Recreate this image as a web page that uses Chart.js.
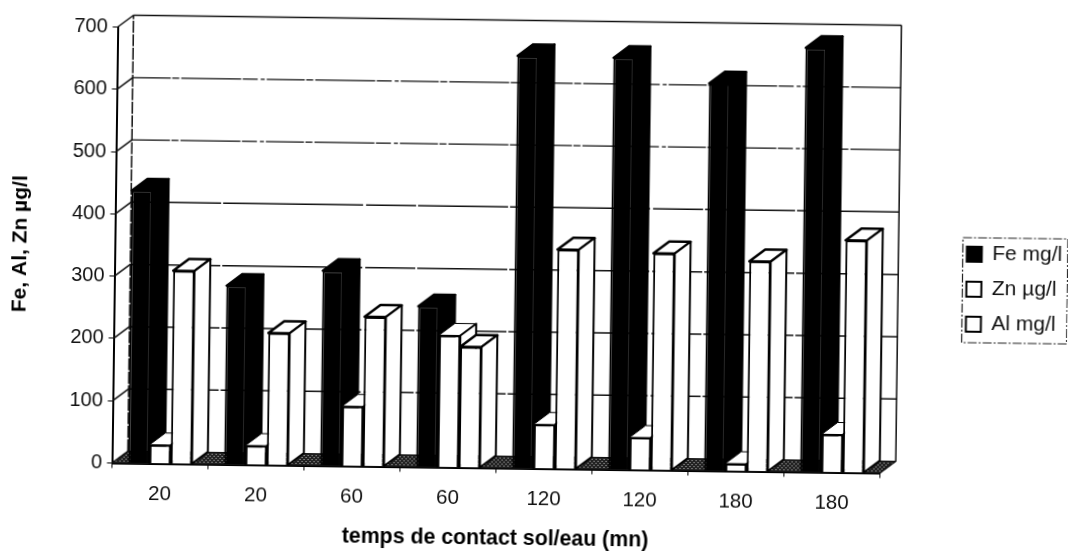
<!DOCTYPE html>
<html>
<head>
<meta charset="utf-8">
<style>
    html, body { margin: 0; padding: 0; background: #fff; overflow: hidden; }
    /* the scan sits slightly crooked */
    #chart { display: block; transform: rotate(0.75deg); transform-origin: 534px 275px; }
</style>
<script src="https://cdn.jsdelivr.net/npm/chart.js@4"></script>
</head>
<body>
<canvas id="chart" width="1068" height="551"></canvas>
<script>
let categories = ['20', '20', '60', '60', '120', '120', '180', '180'];
let fe_values = [438, 287, 313, 258, 662, 661, 622, 681];
let zn_values = [30, 31, 96, 212, 71, 52, 12, 61];
let al_values = [310, 212, 240, 194, 352, 348, 337, 373];

let DEPTH_X = 15.7;
let DEPTH_Y = -12;
let FONT = '"Liberation Sans", Arial, sans-serif';

let polygon = function(ctx, points, fill, stroke, line_width) {
    ctx.beginPath();
    points.forEach(function(p, i) {
        if (i == 0) ctx.moveTo(p[0], p[1]);
        else ctx.lineTo(p[0], p[1]);
    });
    ctx.closePath();
    ctx.fillStyle = fill;
    ctx.fill();
    ctx.lineWidth = line_width;
    ctx.strokeStyle = stroke;
    ctx.stroke();
};

let floor_pattern = function(ctx) {
    let tile = document.createElement('canvas');
    tile.width = 4;
    tile.height = 4;
    let t = tile.getContext('2d');
    t.fillStyle = '#222';
    t.fillRect(0, 0, 4, 4);
    t.fillStyle = '#bbb';
    t.fillRect(0, 0, 1, 1);
    t.fillRect(2, 2, 1, 1);
    return ctx.createPattern(tile, 'repeat');
};

// back walls, floor and gridlines, set back from the front plane
let walls_plugin = {
    id: 'walls',
    beforeDatasetsDraw: function(chart) {
        let ctx = chart.ctx;
        let a = chart.chartArea;
        let y_scale = chart.scales.y;
        ctx.save();

        polygon(ctx, [
            [a.left, a.bottom], [a.right, a.bottom],
            [a.right + DEPTH_X, a.bottom + DEPTH_Y], [a.left + DEPTH_X, a.bottom + DEPTH_Y]
        ], floor_pattern(ctx), '#111', 1);

        y_scale.ticks.forEach(function(tick) {
            let y = y_scale.getPixelForValue(tick.value);
            ctx.strokeStyle = '#111';
            ctx.lineWidth = 1.5;
            ctx.setLineDash([]);
            ctx.beginPath();
            ctx.moveTo(a.left, y);
            ctx.lineTo(a.left + DEPTH_X, y + DEPTH_Y);
            ctx.stroke();
            if (tick.value == 0) return;
            if (tick.value == 700) ctx.setLineDash([]);
            else if (tick.value >= 500) ctx.setLineDash([38, 1.5, 7, 2, 60, 1.5, 15, 3, 4, 2]);
            else ctx.setLineDash([90, 2, 140, 3, 50, 2]);
            ctx.lineWidth = tick.value >= 500 && tick.value < 700 ? 1.2 : 1.5;
            ctx.beginPath();
            ctx.moveTo(a.left + DEPTH_X, y + DEPTH_Y);
            ctx.lineTo(a.right + DEPTH_X, y + DEPTH_Y);
            ctx.stroke();
        });

        ctx.lineWidth = 1.5;
        ctx.setLineDash([12, 1.5]);
        ctx.beginPath();
        ctx.moveTo(a.left + DEPTH_X, a.bottom + DEPTH_Y);
        ctx.lineTo(a.left + DEPTH_X, a.top + DEPTH_Y);
        ctx.stroke();
        ctx.setLineDash([]);
        ctx.beginPath();
        ctx.moveTo(a.right + DEPTH_X, a.top + DEPTH_Y);
        ctx.lineTo(a.right + DEPTH_X, a.bottom + DEPTH_Y);
        ctx.lineTo(a.right, a.bottom);
        ctx.stroke();
        ctx.restore();
    },
    // chart.js paints the last dataset first, here the first one has to go to the back
    beforeDatasetDraw: function() {
        return false;
    },
    afterDatasetsDraw: function(chart) {
        let ctx = chart.ctx;
        categories.forEach(function(category, c) {
            chart.data.datasets.forEach(function(dataset, d) {
                let bar = chart.getDatasetMeta(d).data[c];
                let p = bar.getProps(['x', 'y', 'width', 'base']);
                let left = p.x - p.width / 2;
                let right = p.x + p.width / 2;
                let line_width = dataset.depthLine;
                ctx.save();
                ctx.lineJoin = 'round';
                polygon(ctx, [
                    [left, p.y], [right, p.y],
                    [right + DEPTH_X, p.y + DEPTH_Y], [left + DEPTH_X, p.y + DEPTH_Y]
                ], dataset.backgroundColor, '#000', line_width);
                polygon(ctx, [
                    [right, p.y], [right + DEPTH_X, p.y + DEPTH_Y],
                    [right + DEPTH_X, p.base + DEPTH_Y], [right, p.base]
                ], dataset.backgroundColor, '#000', 2);
                ctx.restore();
                bar.draw(ctx);
            });
        });
    },
    afterLayout: function(chart) {
        // legend sits away from the plot, inside its dashed frame
        let legend = chart.legend;
        legend.left = 952.5;
        legend.width = 115;
        legend.right = 1067.5;
        legend.top = 224;
        legend.height = 175;
        legend.bottom = 399;
    },
    afterDraw: function(chart) {
        let ctx = chart.ctx;
        ctx.save();
        ctx.strokeStyle = '#222';
        ctx.lineWidth = 1.2;
        ctx.setLineDash([9, 2, 2, 2]);
        ctx.strokeRect(962.5, 232, 105, 105);
        ctx.restore();
    }
};

new Chart(document.getElementById('chart'), {
    type: 'bar',
    plugins: [walls_plugin],
    data: {
        labels: categories,
        datasets: [
            { label: 'Fe mg/l', data: fe_values, backgroundColor: '#000', borderColor: '#000', borderWidth: 2, depthLine: 2 },
            { label: 'Zn µg/l', data: zn_values, backgroundColor: '#fff', borderColor: '#000', borderWidth: 2, depthLine: 1 },
            { label: 'Al mg/l', data: al_values, backgroundColor: '#fff', borderColor: '#000', borderWidth: 2, depthLine: 2.5 }
        ]
    },
    options: {
        responsive: false,
        animation: false,
        layout: { padding: { left: 0, right: 66, top: 32.5, bottom: 0 } },
        datasets: { bar: { categoryPercentage: 0.667, barPercentage: 1 } },
        plugins: {
            tooltip: { enabled: false },
            legend: {
                position: 'right',
                align: 'start',
                labels: {
                    color: '#111',
                    boxWidth: 15,
                    boxHeight: 15,
                    padding: 14,
                    font: { family: FONT, size: 21 }
                }
            }
        },
        scales: {
            x: {
                afterFit: function(scale) { scale.height = 82.5; },
                border: { display: true, color: '#000', width: 2 },
                grid: { drawOnChartArea: false, color: '#000', tickLength: 5 },
                ticks: { color: '#111', padding: 14, maxRotation: 0, font: { family: FONT, size: 20.5 } },
                title: {
                    display: true,
                    text: 'temps de contact sol/eau (mn)',
                    color: '#000',
                    padding: { top: 0, bottom: -1 },
                    font: { family: FONT, size: 21.3, weight: 'bold' }
                }
            },
            y: {
                min: 0,
                max: 700,
                afterFit: function(scale) { scale.width = 114.5; },
                border: { display: true, color: '#000', width: 2 },
                grid: { drawOnChartArea: false, color: '#000', tickLength: 5 },
                ticks: { stepSize: 100, color: '#111', padding: 5, font: { family: FONT, size: 20 } },
                title: {
                    display: true,
                    text: 'Fe, Al, Zn µg/l',
                    color: '#000',
                    padding: { top: 8, bottom: 0 },
                    font: { family: FONT, size: 21, weight: 'bold' }
                }
            }
        }
    }
});
</script>
</body>
</html>
